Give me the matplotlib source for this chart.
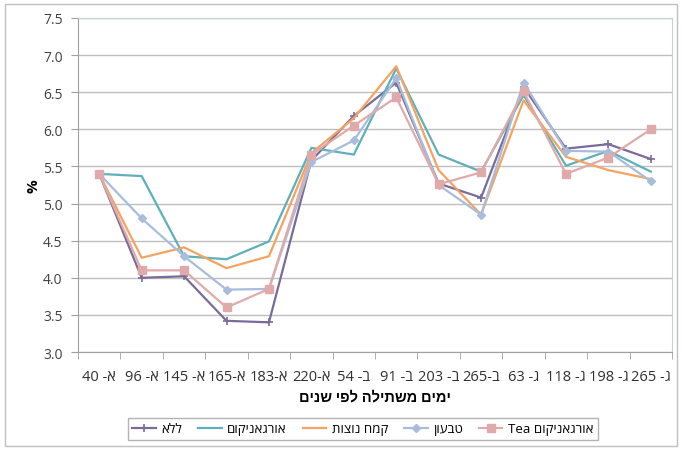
import matplotlib
matplotlib.use('Agg')
import matplotlib.pyplot as plt
from matplotlib.patches import Rectangle

plt.rcParams['font.family'] = ['Open Sans', 'Liberation Sans', 'DejaVu Sans']


def heb(s):
    # matplotlib has no bidi, so write Hebrew in visual order
    return s[::-1]


# categories, already in visual (left-to-right) order
cats = ['40 -' + 'א', '96 -' + 'א', '145 -' + 'א', '165-' + 'א', '183-' + 'א',
        '220-' + 'א', '54 -' + 'ב', '91 -' + 'ב', '203 -' + 'ב', '265-' + 'ב',
        '63 -' + 'ג', '118 -' + 'ג', '198 -' + 'ג', '265 -' + 'ג']

lela = [5.40, 4.00, 4.02, 3.42, 3.40, 5.58, 6.18, 6.63, 5.27, 5.08, 6.57, 5.74, 5.80, 5.60]
organicum = [5.40, 5.37, 4.29, 4.25, 4.49, 5.75, 5.66, 6.82, 5.66, 5.43, 6.46, 5.51, 5.71, 5.43]
kemach = [5.40, 4.27, 4.41, 4.13, 4.29, 5.68, 6.15, 6.85, 5.45, 4.85, 6.39, 5.63, 5.45, 5.33]
tivon = [5.40, 4.80, 4.29, 3.84, 3.85, 5.56, 5.85, 6.69, 5.25, 4.85, 6.63, 5.71, 5.70, 5.30]
tea = [5.40, 4.10, 4.10, 3.60, 3.85, 5.66, 6.05, 6.43, 5.26, 5.42, 6.51, 5.40, 5.62, 6.00]

names = [heb('ללא'), heb('אורגאניקום'), heb('קמח נוצות'), heb('טבעון'),
         'Tea ' + heb('אורגאניקום')]

fig = plt.figure(figsize=(6.82, 4.52), dpi=100)
ax = fig.add_axes([0.1144, 0.219, 0.871, 0.739])

x = list(range(len(cats)))
ax.plot(x, lela, color='#7a6b9a', lw=1.6, marker='+', ms=6, mew=1.2, label=names[0])
ax.plot(x, organicum, color='#5fb0bb', lw=1.6, label=names[1])
ax.plot(x, kemach, color='#f4a361', lw=1.6, label=names[2])
ax.plot(x, tivon, color='#a8bddb', lw=1.6, marker='D', ms=4, label=names[3])
ax.plot(x, tea, color='#e0aaaa', lw=1.6, marker='s', ms=6, label=names[4])

ax.set_xlim(-0.5, len(cats) - 0.5)
ax.set_ylim(3.0, 7.5)
ax.set_yticks([3.0 + 0.5 * i for i in range(10)])
ax.set_yticklabels(['%.1f' % (3.0 + 0.5 * i) for i in range(10)], fontsize=10, color='#404040')
ax.set_xticks(x)
ax.set_xticklabels(cats, fontsize=10.5, color='#303030')
ax.set_xticks([i - 0.5 for i in range(len(cats) + 1)], minor=True)
ax.tick_params(axis='x', which='major', length=0, pad=12)
ax.tick_params(axis='x', which='minor', length=5, color='#a0a0a0')
ax.tick_params(axis='y', length=5, color='#a0a0a0', pad=6)
ax.grid(axis='y', color='#bfbfbf', lw=1)
ax.set_axisbelow(True)
for s in ax.spines.values():
    s.set_color('#c8d0d8')
ax.spines['left'].set_color('#a0a0a0')
ax.spines['bottom'].set_color('#a0a0a0')

ax.set_xlabel(heb('ימים משתילה לפי שנים'), fontsize=10.5, fontweight='bold', labelpad=4)
ax.set_ylabel('%', fontsize=11, fontweight='bold', labelpad=2)

fig.legend(loc='center', bbox_to_anchor=(0.532, 0.049), ncol=5, fontsize=9.5,
           frameon=True, fancybox=False, edgecolor='#a0a0a0', handlelength=1.8,
           columnspacing=1.2, handletextpad=0.4, borderpad=0.35)

fig.patches.append(Rectangle((0.007, 0.011), 0.986, 0.978, transform=fig.transFigure,
                             fill=False, edgecolor='#c0c0c0', lw=1))

plt.savefig('out.png', dpi=100)
